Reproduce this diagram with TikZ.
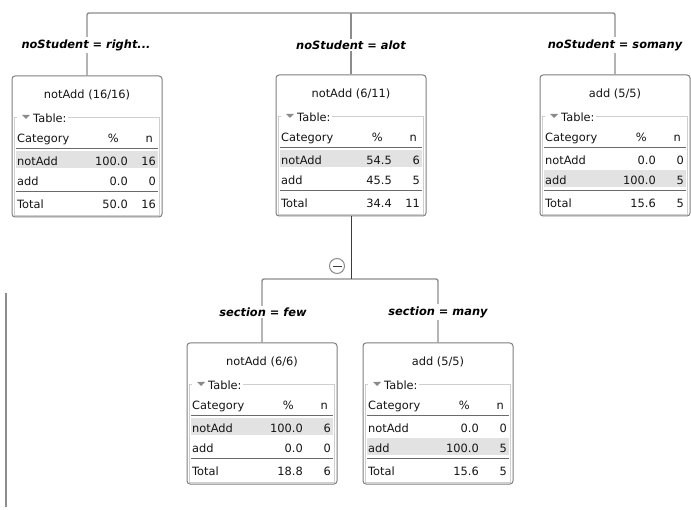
\documentclass[tikz,border=0pt]{standalone}
\usepackage{fontspec}
\setmainfont{DejaVu Sans}
\newfontfamily\labfont{DejaVu Sans Bold Oblique}

\definecolor{boxgray}{HTML}{7F7F7F}
\definecolor{framegray}{HTML}{CFCFCF}
\definecolor{sepgray}{HTML}{6A6A6A}
\definecolor{rowgray}{HTML}{E2E2E2}
\definecolor{conngray}{HTML}{8C8C8C}
\definecolor{darkline}{HTML}{3C3C3C}
\definecolor{txt}{HTML}{141414}
\definecolor{trigray}{HTML}{8A8A8A}

\tikzset{
  box/.style={draw=boxgray, line width=1pt, rounded corners=3pt, fill=white,
    minimum width=150pt, minimum height=141pt, inner sep=0pt},
  cell/.style={inner sep=0pt, text=txt, font=\fontsize{11.4}{13}\selectfont},
  lab/.style={fill=white, inner xsep=1pt, inner ysep=2pt, text=black,
    font=\labfont\fontsize{11.4}{13}\selectfont},
  conn/.style={draw=conngray, line width=1.4pt, rounded corners=2pt},
  stem/.style={draw=darkline, line width=1pt},
  sepline/.style={draw=sepgray, line width=0.9pt},
}

% One decision-tree node: name, left x, top y, title, top of shaded row,
% notAdd % and n, add % and n
\newcommand\leafbox[9]{%
  \def\leafx{#2}\def\leafy{#3}%
  \begin{scope}[shift={(#2,#3)}]
    \node[box] (#1) at (75,70.5) {};
    \fill[rowgray] (4,#5) rectangle (146,#5+17);
    \draw[framegray, line width=0.8pt] (2,41) rectangle (147,139);
    \fill[white] (5,37) rectangle (20,45);
    \fill[trigray] (10,39) -- (18,39) -- (14,43) -- cycle;
    \node[cell, anchor=mid west, fill=white, inner xsep=1pt] (#1-tab) at (20,43.5) {Table:};
    \node[cell] (#1-title) at (75,19) {#4};
    \node[cell, anchor=mid west] (#1-hc) at (5,64) {Category};
    \node[cell, anchor=mid east] (#1-hp) at (107,64) {\%};
    \node[cell, anchor=mid east] (#1-hn) at (141,64) {n};
    \draw[sepline] (4,72) -- (146,72);
    \node[cell, anchor=mid west] (#1-c1) at (5,87) {notAdd};
    \node[cell, anchor=mid east] (#1-p1) at (116,87) {#6};
    \node[cell, anchor=mid east] (#1-n1) at (144,87) {#7};
    \node[cell, anchor=mid west] (#1-c2) at (5,107) {add};
    \node[cell, anchor=mid east] (#1-p2) at (116,107) {#8};
    \node[cell, anchor=mid east] (#1-n2) at (144,107) {#9};
    \draw[sepline] (4,115) -- (146,115);
  \end{scope}}

% Total row of the node drawn last
\newcommand\leaftotal[3]{%
  \begin{scope}[shift={(\leafx,\leafy)}]
    \node[cell, anchor=mid west] (#1-ct) at (5,130) {Total};
    \node[cell, anchor=mid east] (#1-pt) at (116,130) {#2};
    \node[cell, anchor=mid east] (#1-nt) at (144,130) {#3};
  \end{scope}}

\begin{document}
\begin{tikzpicture}[x=1pt, y=-1pt]
  \useasboundingbox (0,0) rectangle (691,510);

  % nodes
  \leafbox{right}{12}{76}{notAdd (16/16)}{75}{100.0}{16}{0.0}{0}
  \leaftotal{right}{50.0}{16}
  \leafbox{alot}{276}{75}{notAdd (6/11)}{75}{54.5}{6}{45.5}{5}
  \leaftotal{alot}{34.4}{11}
  \leafbox{somany}{540}{75}{add (5/5)}{95}{0.0}{0}{100.0}{5}
  \leaftotal{somany}{15.6}{5}
  \leafbox{few}{187}{343}{notAdd (6/6)}{75}{100.0}{6}{0.0}{0}
  \leaftotal{few}{18.8}{6}
  \leafbox{many}{363}{343}{add (5/5)}{95}{0.0}{0}{100.0}{5}
  \leaftotal{many}{15.6}{5}

  % first split
  \coordinate (top) at (351,13);
  \draw[conn] (right.north) |- (top) -| (somany.north);
  \draw[conn] (top) -- (alot.north);

  % second split
  \coordinate (fork) at (351,279);
  \draw[conn] (few.north) |- (fork) -| (many.north);
  \draw[stem] (alot.south) -- (fork);

  % collapse toggle
  \node[circle, draw=conngray, line width=1pt, fill=white, minimum size=15pt,
    inner sep=0pt] (toggle) at (337,266) {};
  \draw[darkline, line width=0.9pt] ([xshift=-4.5pt]toggle.center) -- ([xshift=4.5pt]toggle.center);

  % branch labels
  \node[lab] (l-right) at (86,45) {noStudent = right...};
  \node[lab] (l-alot) at (351,45) {noStudent = alot};
  \node[lab] (l-somany) at (615,45) {noStudent = somany};
  \node[lab] (l-few) at (263,312) {section = few};
  \node[lab] (l-many) at (438,312) {section = many};

  % window edge
  \coordinate (edgeA) at (5.8,293);
  \coordinate (edgeB) at (5.8,507);
  \draw[draw=conngray, line width=2pt] (edgeA) -- (edgeB);
\end{tikzpicture}
\end{document}
